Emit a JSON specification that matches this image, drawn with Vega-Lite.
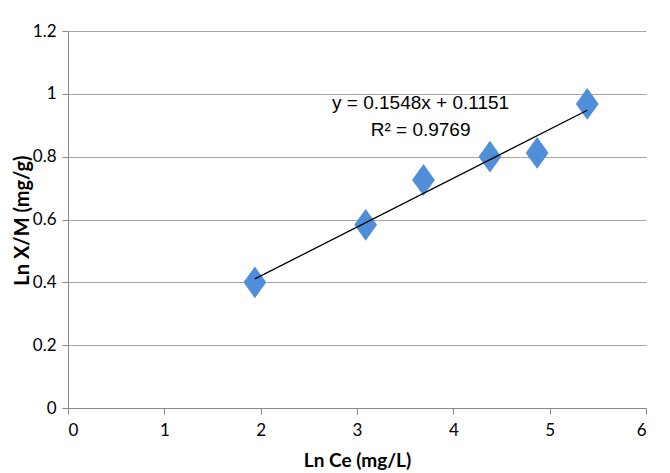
{
  "$schema": "https://vega.github.io/schema/vega-lite/v6.json",
  "width": 578,
  "height": 377,
  "autosize": "none",
  "padding": {"left": 68, "top": 31, "right": 24, "bottom": 65},
  "background": "white",
  "config": {
    "view": {"stroke": null},
    "font": "Lato",
    "axis": {"labelFont": "Lato", "titleFont": "Lato"}
  },
  "datasets": {
    "pts": [
      {"lnCe": 1.94, "lnXM": 0.40},
      {"lnCe": 3.09, "lnXM": 0.583},
      {"lnCe": 3.69, "lnXM": 0.726},
      {"lnCe": 4.38, "lnXM": 0.80},
      {"lnCe": 4.87, "lnXM": 0.812},
      {"lnCe": 5.39, "lnXM": 0.968}
    ],
    "eq": [
      {"x": 3.66, "y": 0.972, "label": "y = 0.1548x + 0.1151"},
      {"x": 3.66, "y": 0.884, "label": "R² = 0.9769"}
    ]
  },
  "layer": [
    {
      "data": {"name": "pts"},
      "mark": {"type": "point", "shape": "M0,-1L0.72,0L0,1L-0.72,0Z", "filled": true, "size": 1000, "color": "#4F8ED8", "opacity": 1},
      "encoding": {
        "x": {
          "field": "lnCe", "type": "quantitative",
          "scale": {"domain": [0, 6], "nice": false, "zero": false},
          "axis": {
            "title": "Ln Ce  (mg/L)", "titleFontWeight": "bold", "titleFontSize": 19, "titleColor": "#000",
            "titleX": 289, "titleY": 52, "titleBaseline": "middle",
            "values": [0, 1, 2, 3, 4, 5, 6], "format": "d", "grid": false,
            "labelFontSize": 17, "labelColor": "#000", "labelPadding": 8,
            "domainColor": "#888", "tickColor": "#888", "tickSize": 6
          }
        },
        "y": {
          "field": "lnXM", "type": "quantitative",
          "scale": {"domain": [0, 1.2], "nice": false},
          "axis": {
            "title": "Ln X/M  (mg/g)", "titleFontWeight": "bold", "titleFontSize": 20, "titleColor": "#000",
            "titleX": -46, "titleY": 189, "titleAlign": "center", "titleBaseline": "middle", "titleAngle": -90,
            "values": [0, 0.2, 0.4, 0.6, 0.8, 1, 1.2],
            "labelExpr": "datum.value == 0 ? '0' : datum.value == 1 ? '1' : format(datum.value, '.1f')",
            "labelFontSize": 17, "labelColor": "#000", "labelPadding": 6,
            "gridColor": "#A6A6A6", "gridWidth": 1,
            "domainColor": "#888", "tickColor": "#888", "tickSize": 6
          }
        }
      }
    },
    {
      "data": {"name": "pts"},
      "transform": [{"regression": "lnXM", "on": "lnCe"}],
      "mark": {"type": "line", "color": "#000", "strokeWidth": 1.3},
      "encoding": {
        "x": {"field": "lnCe", "type": "quantitative"},
        "y": {"field": "lnXM", "type": "quantitative"}
      }
    },
    {
      "data": {"name": "eq"},
      "mark": {"type": "text", "font": "Liberation Sans", "fontSize": 19, "color": "#000", "align": "center", "baseline": "middle"},
      "encoding": {
        "x": {"field": "x", "type": "quantitative"},
        "y": {"field": "y", "type": "quantitative"},
        "text": {"field": "label"}
      }
    }
  ]
}
